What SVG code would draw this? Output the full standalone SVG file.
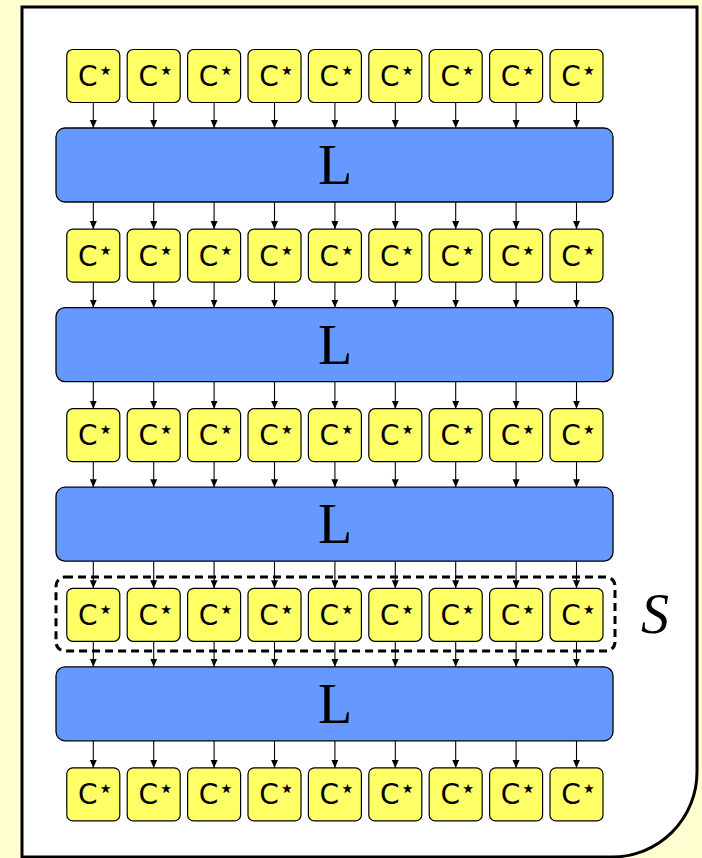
<svg xmlns="http://www.w3.org/2000/svg" width="702" height="858" viewBox="0 0 702 858">
<style>
.c rect{fill:#ffff66;stroke:#000;stroke-width:1.2}
.c text{font-family:"DejaVu Sans","Liberation Sans",sans-serif;font-size:28px;fill:#000}
.c tspan{font-size:26px}
.l rect{fill:#6699ff;stroke:#000;stroke-width:1.3}
.l text{font-family:"Liberation Serif","DejaVu Serif",serif;font-size:56px;fill:#000;text-anchor:middle}
#connectors path{stroke:#000;stroke-width:1.1;fill:none;marker-end:url(#ah)}
</style>
<defs>
<marker id="ah" markerUnits="userSpaceOnUse" markerWidth="8" markerHeight="8" refX="8" refY="3.5" orient="auto">
<path d="M0,0 L8,3.5 L0,7 z" fill="#000"/>
</marker>
</defs>
<rect x="0" y="0" width="702" height="858" fill="#ffffd2"/>
<path id="frame" d="M22,7 H697 V772 A85,85 0 0 1 612,857 H22 Z" fill="#fff" stroke="#000" stroke-width="3"/>
<g id="S">
<rect x="56" y="577" width="559" height="74" rx="9" fill="none" stroke="#000" stroke-width="3" stroke-dasharray="8,5"/>
<text x="641" y="633" font-family="Liberation Serif,DejaVu Serif,serif" font-style="italic" font-size="56">S</text>
</g>
<g id="connectors">
<path d="M93.3,102.5V128"/><path d="M153.7,102.5V128"/><path d="M214.1,102.5V128"/><path d="M274.5,102.5V128"/><path d="M334.9,102.5V128"/><path d="M395.3,102.5V128"/><path d="M455.7,102.5V128"/><path d="M516.1,102.5V128"/><path d="M576.5,102.5V128"/>
<path d="M93.3,202V229.1"/><path d="M153.7,202V229.1"/><path d="M214.1,202V229.1"/><path d="M274.5,202V229.1"/><path d="M334.9,202V229.1"/><path d="M395.3,202V229.1"/><path d="M455.7,202V229.1"/><path d="M516.1,202V229.1"/><path d="M576.5,202V229.1"/>
<path d="M93.3,282.1V307.6"/><path d="M153.7,282.1V307.6"/><path d="M214.1,282.1V307.6"/><path d="M274.5,282.1V307.6"/><path d="M334.9,282.1V307.6"/><path d="M395.3,282.1V307.6"/><path d="M455.7,282.1V307.6"/><path d="M516.1,282.1V307.6"/><path d="M576.5,282.1V307.6"/>
<path d="M93.3,381.6V408.7"/><path d="M153.7,381.6V408.7"/><path d="M214.1,381.6V408.7"/><path d="M274.5,381.6V408.7"/><path d="M334.9,381.6V408.7"/><path d="M395.3,381.6V408.7"/><path d="M455.7,381.6V408.7"/><path d="M516.1,381.6V408.7"/><path d="M576.5,381.6V408.7"/>
<path d="M93.3,461.7V487.2"/><path d="M153.7,461.7V487.2"/><path d="M214.1,461.7V487.2"/><path d="M274.5,461.7V487.2"/><path d="M334.9,461.7V487.2"/><path d="M395.3,461.7V487.2"/><path d="M455.7,461.7V487.2"/><path d="M516.1,461.7V487.2"/><path d="M576.5,461.7V487.2"/>
<path d="M93.3,561.2V588.3"/><path d="M153.7,561.2V588.3"/><path d="M214.1,561.2V588.3"/><path d="M274.5,561.2V588.3"/><path d="M334.9,561.2V588.3"/><path d="M395.3,561.2V588.3"/><path d="M455.7,561.2V588.3"/><path d="M516.1,561.2V588.3"/><path d="M576.5,561.2V588.3"/>
<path d="M93.3,641.3V666.8"/><path d="M153.7,641.3V666.8"/><path d="M214.1,641.3V666.8"/><path d="M274.5,641.3V666.8"/><path d="M334.9,641.3V666.8"/><path d="M395.3,641.3V666.8"/><path d="M455.7,641.3V666.8"/><path d="M516.1,641.3V666.8"/><path d="M576.5,641.3V666.8"/>
<path d="M93.3,740.8V767.9"/><path d="M153.7,740.8V767.9"/><path d="M214.1,740.8V767.9"/><path d="M274.5,740.8V767.9"/><path d="M334.9,740.8V767.9"/><path d="M395.3,740.8V767.9"/><path d="M455.7,740.8V767.9"/><path d="M516.1,740.8V767.9"/><path d="M576.5,740.8V767.9"/>
</g>
<g id="L1" class="l"><rect x="56" y="128" width="557" height="74" rx="9"/><text x="335" y="184">L</text></g>
<g id="L2" class="l"><rect x="56" y="307.6" width="557" height="74" rx="9"/><text x="335" y="363.6">L</text></g>
<g id="L3" class="l"><rect x="56" y="487.2" width="557" height="74" rx="9"/><text x="335" y="543.2">L</text></g>
<g id="L4" class="l"><rect x="56" y="666.8" width="557" height="74" rx="9"/><text x="335" y="722.8">L</text></g>
<g id="c0_0" class="c"><rect x="66.8" y="49.5" width="53" height="53" rx="6"/><text x="78" y="86">C<tspan dy="-7">⋆</tspan></text></g>
<g id="c0_1" class="c"><rect x="127.2" y="49.5" width="53" height="53" rx="6"/><text x="138.4" y="86">C<tspan dy="-7">⋆</tspan></text></g>
<g id="c0_2" class="c"><rect x="187.6" y="49.5" width="53" height="53" rx="6"/><text x="198.8" y="86">C<tspan dy="-7">⋆</tspan></text></g>
<g id="c0_3" class="c"><rect x="248" y="49.5" width="53" height="53" rx="6"/><text x="259.2" y="86">C<tspan dy="-7">⋆</tspan></text></g>
<g id="c0_4" class="c"><rect x="308.4" y="49.5" width="53" height="53" rx="6"/><text x="319.6" y="86">C<tspan dy="-7">⋆</tspan></text></g>
<g id="c0_5" class="c"><rect x="368.8" y="49.5" width="53" height="53" rx="6"/><text x="380" y="86">C<tspan dy="-7">⋆</tspan></text></g>
<g id="c0_6" class="c"><rect x="429.2" y="49.5" width="53" height="53" rx="6"/><text x="440.4" y="86">C<tspan dy="-7">⋆</tspan></text></g>
<g id="c0_7" class="c"><rect x="489.6" y="49.5" width="53" height="53" rx="6"/><text x="500.8" y="86">C<tspan dy="-7">⋆</tspan></text></g>
<g id="c0_8" class="c"><rect x="550" y="49.5" width="53" height="53" rx="6"/><text x="561.2" y="86">C<tspan dy="-7">⋆</tspan></text></g>
<g id="c1_0" class="c"><rect x="66.8" y="229.1" width="53" height="53" rx="6"/><text x="78" y="265.6">C<tspan dy="-7">⋆</tspan></text></g>
<g id="c1_1" class="c"><rect x="127.2" y="229.1" width="53" height="53" rx="6"/><text x="138.4" y="265.6">C<tspan dy="-7">⋆</tspan></text></g>
<g id="c1_2" class="c"><rect x="187.6" y="229.1" width="53" height="53" rx="6"/><text x="198.8" y="265.6">C<tspan dy="-7">⋆</tspan></text></g>
<g id="c1_3" class="c"><rect x="248" y="229.1" width="53" height="53" rx="6"/><text x="259.2" y="265.6">C<tspan dy="-7">⋆</tspan></text></g>
<g id="c1_4" class="c"><rect x="308.4" y="229.1" width="53" height="53" rx="6"/><text x="319.6" y="265.6">C<tspan dy="-7">⋆</tspan></text></g>
<g id="c1_5" class="c"><rect x="368.8" y="229.1" width="53" height="53" rx="6"/><text x="380" y="265.6">C<tspan dy="-7">⋆</tspan></text></g>
<g id="c1_6" class="c"><rect x="429.2" y="229.1" width="53" height="53" rx="6"/><text x="440.4" y="265.6">C<tspan dy="-7">⋆</tspan></text></g>
<g id="c1_7" class="c"><rect x="489.6" y="229.1" width="53" height="53" rx="6"/><text x="500.8" y="265.6">C<tspan dy="-7">⋆</tspan></text></g>
<g id="c1_8" class="c"><rect x="550" y="229.1" width="53" height="53" rx="6"/><text x="561.2" y="265.6">C<tspan dy="-7">⋆</tspan></text></g>
<g id="c2_0" class="c"><rect x="66.8" y="408.7" width="53" height="53" rx="6"/><text x="78" y="445.2">C<tspan dy="-7">⋆</tspan></text></g>
<g id="c2_1" class="c"><rect x="127.2" y="408.7" width="53" height="53" rx="6"/><text x="138.4" y="445.2">C<tspan dy="-7">⋆</tspan></text></g>
<g id="c2_2" class="c"><rect x="187.6" y="408.7" width="53" height="53" rx="6"/><text x="198.8" y="445.2">C<tspan dy="-7">⋆</tspan></text></g>
<g id="c2_3" class="c"><rect x="248" y="408.7" width="53" height="53" rx="6"/><text x="259.2" y="445.2">C<tspan dy="-7">⋆</tspan></text></g>
<g id="c2_4" class="c"><rect x="308.4" y="408.7" width="53" height="53" rx="6"/><text x="319.6" y="445.2">C<tspan dy="-7">⋆</tspan></text></g>
<g id="c2_5" class="c"><rect x="368.8" y="408.7" width="53" height="53" rx="6"/><text x="380" y="445.2">C<tspan dy="-7">⋆</tspan></text></g>
<g id="c2_6" class="c"><rect x="429.2" y="408.7" width="53" height="53" rx="6"/><text x="440.4" y="445.2">C<tspan dy="-7">⋆</tspan></text></g>
<g id="c2_7" class="c"><rect x="489.6" y="408.7" width="53" height="53" rx="6"/><text x="500.8" y="445.2">C<tspan dy="-7">⋆</tspan></text></g>
<g id="c2_8" class="c"><rect x="550" y="408.7" width="53" height="53" rx="6"/><text x="561.2" y="445.2">C<tspan dy="-7">⋆</tspan></text></g>
<g id="c3_0" class="c"><rect x="66.8" y="588.3" width="53" height="53" rx="6"/><text x="78" y="624.8">C<tspan dy="-7">⋆</tspan></text></g>
<g id="c3_1" class="c"><rect x="127.2" y="588.3" width="53" height="53" rx="6"/><text x="138.4" y="624.8">C<tspan dy="-7">⋆</tspan></text></g>
<g id="c3_2" class="c"><rect x="187.6" y="588.3" width="53" height="53" rx="6"/><text x="198.8" y="624.8">C<tspan dy="-7">⋆</tspan></text></g>
<g id="c3_3" class="c"><rect x="248" y="588.3" width="53" height="53" rx="6"/><text x="259.2" y="624.8">C<tspan dy="-7">⋆</tspan></text></g>
<g id="c3_4" class="c"><rect x="308.4" y="588.3" width="53" height="53" rx="6"/><text x="319.6" y="624.8">C<tspan dy="-7">⋆</tspan></text></g>
<g id="c3_5" class="c"><rect x="368.8" y="588.3" width="53" height="53" rx="6"/><text x="380" y="624.8">C<tspan dy="-7">⋆</tspan></text></g>
<g id="c3_6" class="c"><rect x="429.2" y="588.3" width="53" height="53" rx="6"/><text x="440.4" y="624.8">C<tspan dy="-7">⋆</tspan></text></g>
<g id="c3_7" class="c"><rect x="489.6" y="588.3" width="53" height="53" rx="6"/><text x="500.8" y="624.8">C<tspan dy="-7">⋆</tspan></text></g>
<g id="c3_8" class="c"><rect x="550" y="588.3" width="53" height="53" rx="6"/><text x="561.2" y="624.8">C<tspan dy="-7">⋆</tspan></text></g>
<g id="c4_0" class="c"><rect x="66.8" y="767.9" width="53" height="53" rx="6"/><text x="78" y="804.4">C<tspan dy="-7">⋆</tspan></text></g>
<g id="c4_1" class="c"><rect x="127.2" y="767.9" width="53" height="53" rx="6"/><text x="138.4" y="804.4">C<tspan dy="-7">⋆</tspan></text></g>
<g id="c4_2" class="c"><rect x="187.6" y="767.9" width="53" height="53" rx="6"/><text x="198.8" y="804.4">C<tspan dy="-7">⋆</tspan></text></g>
<g id="c4_3" class="c"><rect x="248" y="767.9" width="53" height="53" rx="6"/><text x="259.2" y="804.4">C<tspan dy="-7">⋆</tspan></text></g>
<g id="c4_4" class="c"><rect x="308.4" y="767.9" width="53" height="53" rx="6"/><text x="319.6" y="804.4">C<tspan dy="-7">⋆</tspan></text></g>
<g id="c4_5" class="c"><rect x="368.8" y="767.9" width="53" height="53" rx="6"/><text x="380" y="804.4">C<tspan dy="-7">⋆</tspan></text></g>
<g id="c4_6" class="c"><rect x="429.2" y="767.9" width="53" height="53" rx="6"/><text x="440.4" y="804.4">C<tspan dy="-7">⋆</tspan></text></g>
<g id="c4_7" class="c"><rect x="489.6" y="767.9" width="53" height="53" rx="6"/><text x="500.8" y="804.4">C<tspan dy="-7">⋆</tspan></text></g>
<g id="c4_8" class="c"><rect x="550" y="767.9" width="53" height="53" rx="6"/><text x="561.2" y="804.4">C<tspan dy="-7">⋆</tspan></text></g>
</svg>
